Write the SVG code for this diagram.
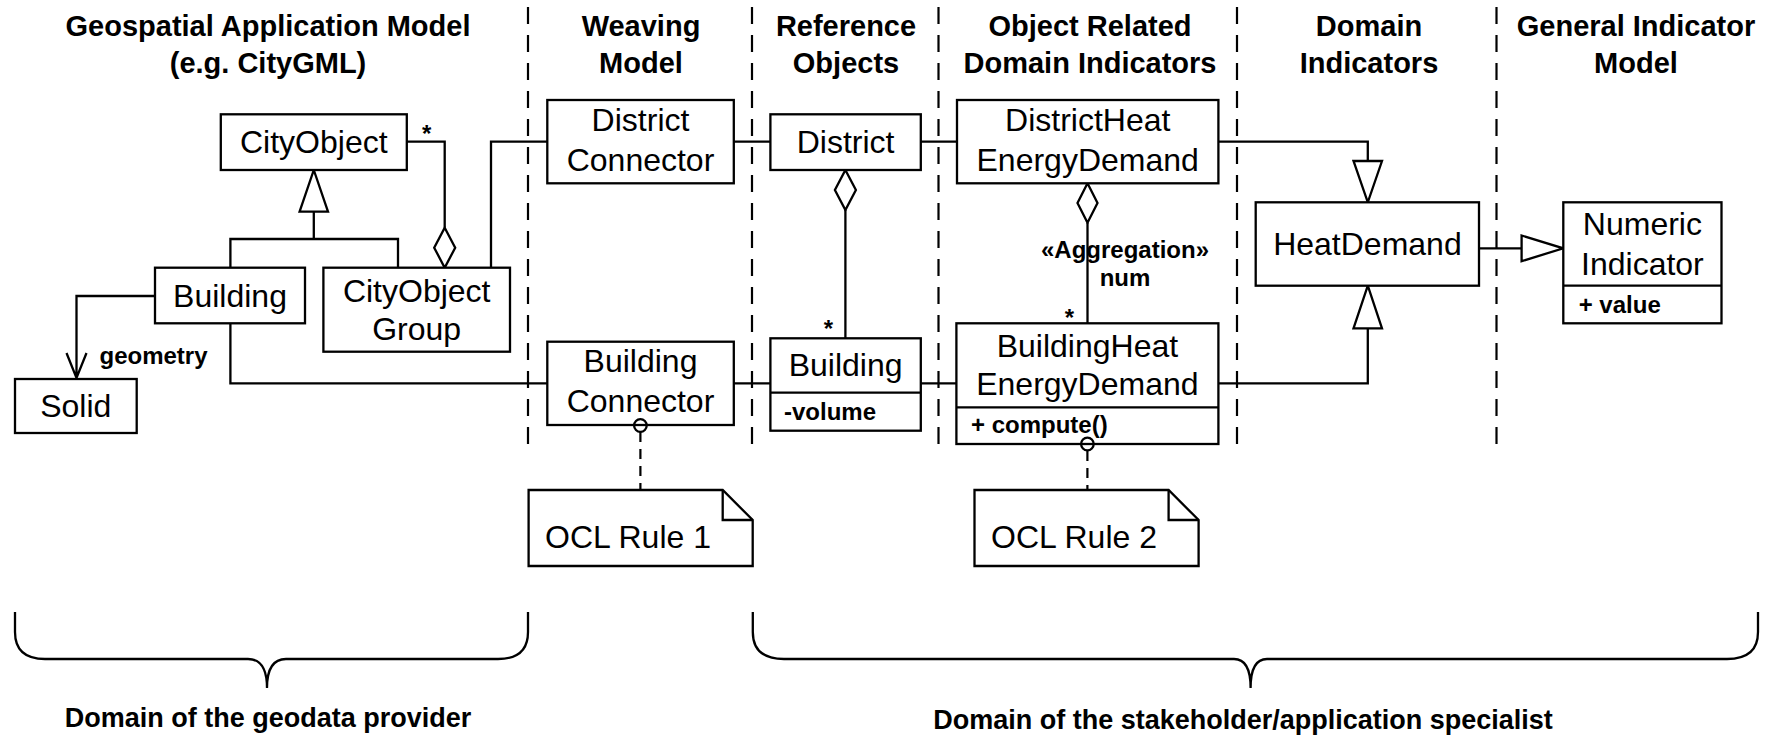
<svg xmlns="http://www.w3.org/2000/svg" width="1769" height="738" viewBox="0 0 1769 738">
<style>
text{font-family:"Liberation Sans",Arial,sans-serif;fill:#000}
.t{font-size:29px;font-weight:bold;text-anchor:middle}
.n{font-size:32px;text-anchor:middle}
.s{font-size:24px;font-weight:bold}
.b{font-size:27px;font-weight:bold;text-anchor:middle}
.box{fill:#fff;stroke:#000;stroke-width:2.3}
.ln{fill:none;stroke:#000;stroke-width:2.3}
.sep{fill:none;stroke:#000;stroke-width:2.2;stroke-dasharray:17 11}
.dl{fill:none;stroke:#000;stroke-width:2.2;stroke-dasharray:10 7}
.tri{fill:#fff;stroke:#000;stroke-width:2.3}
</style>
<rect width="1769" height="738" fill="#fff"/>
<g id="titles">
<text class="t" x="268" y="36">Geospatial Application Model</text>
<text class="t" x="268" y="73">(e.g. CityGML)</text>
<text class="t" x="641" y="36">Weaving</text>
<text class="t" x="641" y="73">Model</text>
<text class="t" x="846" y="36">Reference</text>
<text class="t" x="846" y="73">Objects</text>
<text class="t" x="1090" y="36">Object Related</text>
<text class="t" x="1090" y="73">Domain Indicators</text>
<text class="t" x="1369" y="36">Domain</text>
<text class="t" x="1369" y="73">Indicators</text>
<text class="t" x="1636" y="36">General Indicator</text>
<text class="t" x="1636" y="73">Model</text>
</g>
<g id="separators">
<path class="sep" d="M528,7V453M752,7V453M938.5,7V453M1237,7V453M1496.5,7V453"/>
</g>
<g id="connectors">
<path class="ln" d="M230.4,267.7V239H398V267.7M313.8,239V211.7"/>
<path class="tri" d="M313.8,170L328,211.7H299.6Z"/>
<path class="ln" d="M406.8,141.7H444.7V227.7"/>
<path class="tri" d="M444.7,227.7L455.2,247.7L444.7,267.7L434.2,247.7Z"/>
<path class="ln" d="M491,267.7V141.7H547.3"/>
<path class="ln" d="M155,296H76.5V378M66.5,353L76.5,378L86.5,353"/>
<path class="ln" d="M230.4,323.3V383.3H547.3"/>
<path class="ln" d="M733.8,141.7H770.4M920.8,141.7H957"/>
<path class="tri" d="M845.4,170L855.9,190L845.4,210L834.9,190Z"/>
<path class="ln" d="M845.4,210V338.3"/>
<path class="ln" d="M733.8,383.3H770.4M920.8,383.3H956.4"/>
<path class="tri" d="M1087.5,183.3L1097.5,203L1087.5,222.7L1077.5,203Z"/>
<path class="ln" d="M1087.5,222.7V323.3"/>
<path class="ln" d="M1218.4,141.7H1367.8V161"/>
<path class="tri" d="M1353.5,161H1382L1367.8,202.3Z"/>
<path class="ln" d="M1218.4,383.3H1367.8V328.3"/>
<path class="tri" d="M1353.5,328.3H1382L1367.8,285.7Z"/>
<path class="ln" d="M1479,248.3H1521.6"/>
<path class="tri" d="M1521.6,235.5V261.2L1563.3,248.3Z"/>
<path class="dl" d="M640.4,432V490M1087.4,451V490"/>
<text class="s" x="426.7" y="142" text-anchor="middle">*</text>
<text class="s" x="828.4" y="337" text-anchor="middle">*</text>
<text class="s" x="1069.5" y="326" text-anchor="middle">*</text>
<text class="s" x="99.5" y="364">geometry</text>
<text class="s" x="1125" y="258" text-anchor="middle">«Aggregation»</text>
<text class="s" x="1125" y="286" text-anchor="middle">num</text>
</g>
<g id="CityObject">
<rect class="box" x="220.8" y="114.3" width="186" height="55.7"/>
<text class="n" x="313.8" y="153">CityObject</text>
</g>
<g id="Building">
<rect class="box" x="155" y="267.7" width="150" height="55.6"/>
<text class="n" x="230" y="307">Building</text>
</g>
<g id="CityObjectGroup">
<rect class="box" x="323.4" y="267.7" width="186.6" height="84"/>
<text class="n" x="416.7" y="301.7">CityObject</text>
<text class="n" x="416.7" y="340">Group</text>
</g>
<g id="Solid">
<rect class="box" x="15" y="379" width="121.7" height="54"/>
<text class="n" x="75.8" y="417">Solid</text>
</g>
<g id="DistrictConnector">
<rect class="box" x="547.3" y="100" width="186.5" height="83.3"/>
<text class="n" x="640.5" y="131">District</text>
<text class="n" x="640.5" y="171">Connector</text>
</g>
<g id="District">
<rect class="box" x="770.4" y="114.3" width="150.4" height="55.7"/>
<text class="n" x="845.6" y="153">District</text>
</g>
<g id="DistrictHeatEnergyDemand">
<rect class="box" x="957" y="100" width="261.4" height="83.3"/>
<text class="n" x="1087.7" y="131">DistrictHeat</text>
<text class="n" x="1087.7" y="171">EnergyDemand</text>
</g>
<g id="HeatDemand">
<rect class="box" x="1255.7" y="202.3" width="223.3" height="83.4"/>
<text class="n" x="1367.4" y="255">HeatDemand</text>
</g>
<g id="NumericIndicator">
<rect class="box" x="1563.3" y="202.3" width="158.2" height="121"/>
<path class="ln" d="M1563.3,285.7H1721.5"/>
<text class="n" x="1642.4" y="235">Numeric</text>
<text class="n" x="1642.4" y="275">Indicator</text>
<text class="s" x="1578.7" y="313">+ value</text>
</g>
<g id="BuildingConnector">
<rect class="box" x="547.3" y="341.7" width="186.5" height="83.3"/>
<text class="n" x="640.5" y="372">Building</text>
<text class="n" x="640.5" y="412">Connector</text>
<circle class="ln" cx="640.4" cy="425.5" r="6.3"/>
</g>
<g id="BuildingRef">
<rect class="box" x="770.4" y="338.3" width="150.4" height="92.4"/>
<path class="ln" d="M770.4,392.7H920.8"/>
<text class="n" x="845.6" y="376">Building</text>
<text class="s" x="784" y="420">-volume</text>
</g>
<g id="BuildingHeatEnergyDemand">
<rect class="box" x="956.4" y="323.3" width="262" height="120.7"/>
<path class="ln" d="M956.4,407.3H1218.4"/>
<text class="n" x="1087.4" y="357">BuildingHeat</text>
<text class="n" x="1087.4" y="395">EnergyDemand</text>
<text class="s" x="971" y="433">+ compute()</text>
<circle class="ln" cx="1087.4" cy="444" r="6.3"/>
</g>
<g id="OCLRule1">
<path class="box" d="M528.6,490H722.7L752.7,520V566H528.6Z"/>
<path class="ln" d="M722.7,490V520H752.7"/>
<text x="545" y="548" style="font-size:32px">OCL Rule 1</text>
</g>
<g id="OCLRule2">
<path class="box" d="M974.5,490H1168.6L1198.6,520V566H974.5Z"/>
<path class="ln" d="M1168.6,490V520H1198.6"/>
<text x="991" y="548" style="font-size:32px">OCL Rule 2</text>
</g>
<g id="braces">
<path class="ln" d="M15,612V632Q15,659 45,659H248C262,659 267,670 267,688C267,670 272,659 286,659H498Q528,659 528,632V612"/>
<path class="ln" d="M752.8,612V632Q752.8,659 784,659H1234C1246,659 1250.6,670 1250.6,688C1250.6,670 1255,659 1267,659H1727Q1758,659 1758,632V612"/>
<text class="b" x="268" y="727">Domain of the geodata provider</text>
<text class="b" x="1243" y="729">Domain of the stakeholder/application specialist</text>
</g>
</svg>
